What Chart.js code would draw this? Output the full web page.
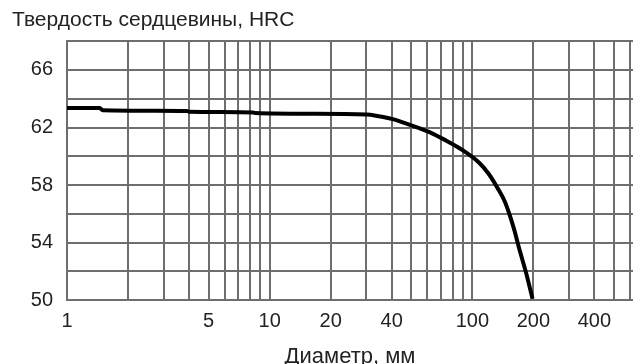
<!DOCTYPE html>
<html>
<head>
<meta charset="utf-8">
<script src="https://cdn.jsdelivr.net/npm/chart.js@4/dist/chart.umd.min.js"></script>
<style>
  body { margin: 0; background: #fff; }
</style>
</head>
<body>
<canvas id="coreChart" width="633" height="364"></canvas>
<script>
  // Данные кривой (диаметр, мм -> твердость, HRC)
  const diameters = [1, 1.45, 1.5, 3.9, 4, 8.3, 8.5, 16, 30, 34, 40, 50, 61, 74, 89, 108, 120, 133, 145, 160, 170, 184, 198];
  const hardness = [63.35, 63.35, 63.2, 63.15, 63.1, 63.05, 63.0, 62.95, 62.9, 62.8, 62.6, 62.15, 61.7, 61.1, 60.45, 59.55, 58.8, 57.8, 56.8, 55.0, 53.6, 51.9, 50.1];

  // Сетка и подписи осей
  const xGrid = [1, 2, 3, 4, 5, 6, 7, 8, 9, 10, 20, 30, 40, 50, 60, 70, 80, 90, 100, 200, 300, 400, 500, 600];
  const xLabels = [1, 5, 10, 20, 40, 100, 200, 400];
  const yLabels = [50, 54, 58, 62, 66];

  const family = '"Liberation Sans", Arial, sans-serif';
  const tickFont = { family: family, size: 20 };
  const gridColor = '#6e6e6e';

  const ctx = document.getElementById('coreChart').getContext('2d');
  const coreChart = new Chart(ctx, {
      type: 'line',
      data: {
          datasets: [{
              data: diameters.map((d, i) => ({ x: d, y: hardness[i] })),
              borderColor: '#000',
              borderWidth: 4,
              pointRadius: 0,
              cubicInterpolationMode: 'monotone'
          }]
      },
      options: {
          responsive: false,
          devicePixelRatio: 1,
          animation: false,
          layout: { padding: { left: 12, right: 0, top: 0, bottom: -3 } },
          plugins: {
              legend: { display: false },
              tooltip: { enabled: false },
              title: {
                  display: true,
                  text: 'Твердость сердцевины, HRC',
                  align: 'start',
                  color: '#222',
                  font: { family: family, size: 21, weight: 'normal' },
                  padding: { top: 8, bottom: 8 }
              }
          },
          scales: {
              x: {
                  type: 'logarithmic',
                  min: 1,
                  max: 620,
                  afterBuildTicks: (scale) => {
                      scale.ticks = xGrid.map(v => ({ value: v }));
                  },
                  afterFit: (scale) => { scale.paddingRight = 0; },
                  ticks: {
                      autoSkip: false,
                      maxRotation: 0,
                      padding: 9,
                      color: '#222',
                      font: tickFont,
                      callback: (v) => xLabels.includes(v) ? String(v) : ''
                  },
                  grid: { color: gridColor, lineWidth: 2, drawTicks: false },
                  border: { color: gridColor, width: 2 },
                  title: {
                      display: true,
                      text: 'Диаметр, мм',
                      color: '#222',
                      font: { family: family, size: 22, lineHeight: 0.95 },
                      padding: { top: 4, bottom: 0 }
                  }
              },
              y: {
                  min: 50,
                  max: 68,
                  afterFit: (scale) => { scale.width = 55; },
                  ticks: {
                      stepSize: 2,
                      padding: 14,
                      color: '#222',
                      font: tickFont,
                      callback: (v) => yLabels.includes(v) ? String(v) : ''
                  },
                  grid: { color: gridColor, lineWidth: 2, drawTicks: false },
                  border: { color: gridColor, width: 2 }
              }
          }
      }
  });
</script>
</body>
</html>
